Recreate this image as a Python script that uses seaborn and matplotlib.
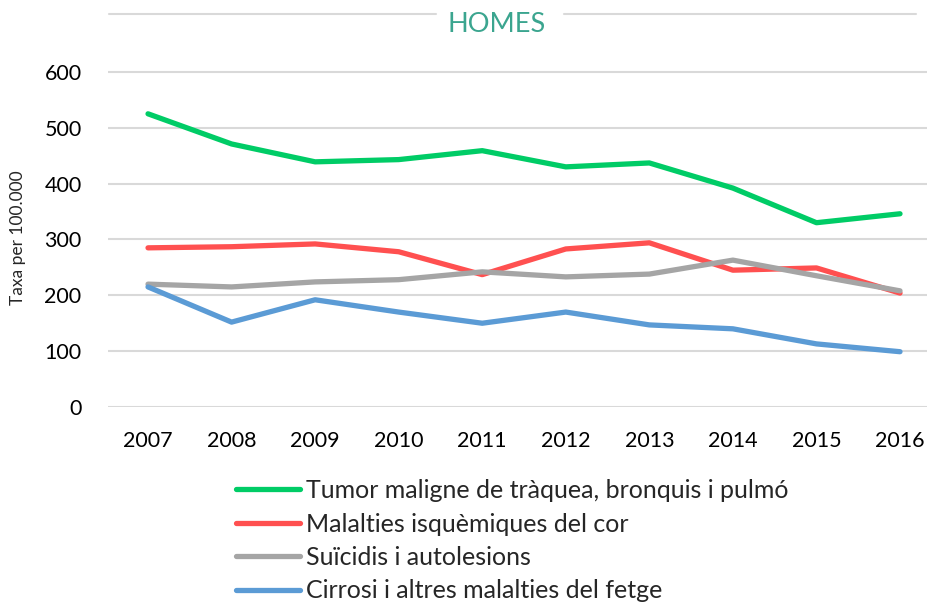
import pandas as pd
import matplotlib.pyplot as plt
import seaborn as sns
from matplotlib.lines import Line2D

# Taxa de mortalitat per 100.000 (homes), llegida del gràfic
years = [2007, 2008, 2009, 2010, 2011, 2012, 2013, 2014, 2015, 2016]
tumor = [525, 471, 439, 443, 459, 430, 437, 392, 330, 346]
cor = [285, 287, 292, 278, 237, 283, 294, 245, 249, 204]
suicidis = [220, 215, 224, 228, 242, 233, 238, 263, 235, 208]
cirrosi = [215, 152, 192, 170, 150, 170, 147, 140, 113, 99]

labels = ["Tumor maligne de tràquea, bronquis i pulmó",
          "Malalties isquèmiques del cor",
          "Suïcidis i autolesions",
          "Cirrosi i altres malalties del fetge"]
colors = ["#00CC66", "#FF5050", "#A5A5A5", "#5B9BD5"]

# long format for seaborn
series = [tumor, cor, suicidis, cirrosi]
rows = []
for lab, vals in zip(labels, series):
    for i, v in enumerate(vals):
        rows.append({"pos": i, "Any": years[i], "Causa": lab, "Taxa": v})
df = pd.DataFrame(rows)

sns.set_style("white")
plt.rcParams['font.family'] = ['Lato', 'DejaVu Sans']

W, H = 928, 604
fig = plt.figure(figsize=(W / 100, H / 100), dpi=100)
ax = fig.add_axes([108 / W, (H - 407) / H, 820 / W, 363 / H])

sns.lineplot(data=df, x="pos", y="Taxa", hue="Causa", palette=colors,
             linewidth=3.8, ax=ax, legend=False, solid_capstyle="round")

ax.set_xlim(-0.479, 9.335)
ax.set_ylim(0, 650)
ax.set_yticks([0, 100, 200, 300, 400, 500, 600])
ax.set_xticks(range(len(years)))
ax.set_xticklabels([str(y) for y in years])
ax.grid(axis="y", color="#D9D9D9", linewidth=1.5)
ax.set_axisbelow(True)
for s in ax.spines.values():
    s.set_visible(False)
ax.tick_params(axis="both", length=0, labelsize=15.5, colors="black")
ax.tick_params(axis="y", pad=19)
ax.tick_params(axis="x", pad=17)
ax.set_xlabel("")
ax.set_ylabel("")

fig.text(18 / W, 1 - 238 / H, "Taxa per 100.000", rotation=90,
         ha="center", va="center", fontsize=12.5)

# title with the decorative line across the top
fig.add_artist(Line2D([109 / W, 436 / W], [1 - 14 / H, 1 - 14 / H],
                      color="#D9D9D9", linewidth=1.5))
fig.add_artist(Line2D([564 / W, 916 / W], [1 - 14 / H, 1 - 14 / H],
                      color="#D9D9D9", linewidth=1.5))
fig.text(497 / W, 1 - 25 / H, "HOMES", ha="center", va="center",
         fontsize=19.5, color="#3BA58F")

handles = [Line2D([], [], color=c, linewidth=3.8, solid_capstyle="round")
           for c in colors]
fig.legend(handles, labels, loc="upper left",
           bbox_to_anchor=(226 / W, 1 - 469 / H), frameon=False,
           fontsize=18, handlelength=2.55, handletextpad=0.25,
           labelspacing=0.42, borderaxespad=0)

fig.savefig("out.png", dpi=100)
